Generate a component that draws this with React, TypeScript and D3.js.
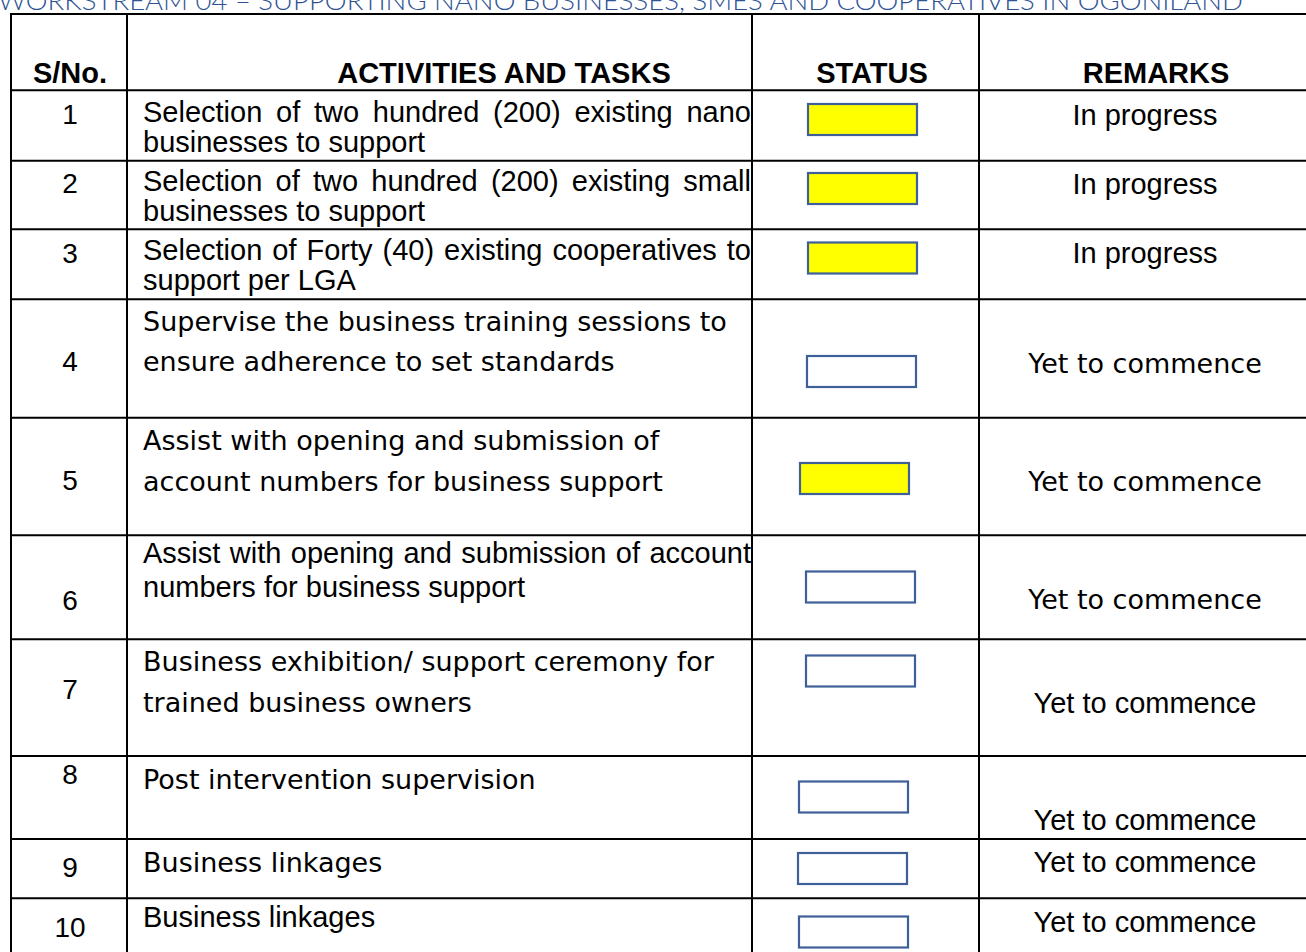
import React, { useEffect, useRef } from 'react';
import * as d3 from 'd3';

// ---- data ----
const title = 'WORKSTREAM 04 – SUPPORTING NANO BUSINESSES, SMES AND COOPERATIVES IN OGONILAND';
const headers = ['S/No.', 'ACTIVITIES AND TASKS', 'STATUS', 'REMARKS'];
const serials = ['1', '2', '3', '4', '5', '6', '7', '8', '9', '10'];
const activities: string[][] = [
  ['Selection of two hundred (200) existing nano', 'businesses to support'],
  ['Selection of two hundred (200) existing small', 'businesses to support'],
  ['Selection of Forty (40) existing cooperatives to', 'support per LGA'],
  ['Supervise the business training sessions to', 'ensure adherence to set standards'],
  ['Assist with opening and submission of', 'account numbers for business support'],
  ['Assist with opening and submission of account', 'numbers for business support'],
  ['Business exhibition/ support ceremony for', 'trained business owners'],
  ['Post intervention supervision'],
  ['Business linkages'],
  ['Business linkages'],
];
const statusFilled = [true, true, true, false, true, false, false, false, false, false];
const remarks = [
  'In progress', 'In progress', 'In progress',
  'Yet to commence', 'Yet to commence', 'Yet to commence', 'Yet to commence',
  'Yet to commence', 'Yet to commence', 'Yet to commence',
];

// ---- layout (as in the source document) ----
const colEdges = [11, 127, 752, 979, 1333];
const rowEdges = [14, 90.3, 160.7, 229.3, 299.3, 417.7, 535.3, 639.3, 756, 839, 898.3, 960];
const headerCenters = [70, 504, 872, 1156];
const headerBaseline = 82.7;
const actBaselines = [[122, 152], [191, 221], [260, 290], [331, 371], [450, 491], [563, 597], [671, 712], [789], [872], [927]];
const numBaselines = [124.3, 193.3, 263.3, 371, 490, 610, 699, 784, 877, 936.7];
const boxLeft = [807, 807, 807, 806, 799, 805, 805, 798, 797, 798];
const boxTop = [103, 172, 241.5, 355, 462, 570.5, 654.5, 780.5, 852, 915.5];
const remarkBaselines = [125, 194, 263.3, 372.7, 491, 609, 712.7, 830, 871.7, 931.7];
const actComic = [false, false, false, true, true, false, true, true, true, false];
const remarkComic = [false, false, false, true, true, true, false, false, false, false];
const justifiedRows = [0, 1, 2, 5];

const ARIAL = '"Liberation Sans", Arial, sans-serif';
const COMIC = '"Comic Sans MS", "DejaVu Sans", sans-serif';

const W = 1306;
const H = 952;

export default function App() {
  const svgRef = useRef<SVGSVGElement>(null);

  useEffect(() => {
    if (!svgRef.current) return;
    const svg = d3.select(svgRef.current);
    svg.selectAll('*').remove();

    const textX = colEdges[1] + 16;
    const textRight = colEdges[2] - 1;

    // title (clipped at top, as in the page)
    svg.append('text')
      .attr('x', -2).attr('y', 9.5)
      .attr('textLength', 1245).attr('lengthAdjust', 'spacingAndGlyphs')
      .attr('font-family', '"Lato", "Open Sans", sans-serif')
      .attr('font-weight', 300)
      .attr('font-size', 26)
      .attr('fill', '#2F5496')
      .text(title);

    const g = svg.append('g');

    // header
    headers.forEach((h, i) => {
      g.append('text')
        .attr('x', headerCenters[i]).attr('y', headerBaseline)
        .attr('text-anchor', 'middle')
        .attr('font-family', ARIAL).attr('font-weight', 'bold').attr('font-size', 29)
        .attr('fill', '#000')
        .text(h);
    });

    serials.forEach((s, r) => {
      // serial number
      g.append('text')
        .attr('x', (colEdges[0] + colEdges[1]) / 2 + 1).attr('y', numBaselines[r])
        .attr('text-anchor', 'middle')
        .attr('font-family', ARIAL).attr('font-size', 28).attr('fill', '#000')
        .text(s);

      // activity lines
      activities[r].forEach((line, li) => {
        const t = g.append('text')
          .attr('x', textX).attr('y', actBaselines[r][li])
          .attr('font-family', actComic[r] ? COMIC : ARIAL)
          .attr('font-size', actComic[r] ? 27 : 29)
          .attr('fill', '#000');
        if (li === 0 && justifiedRows.includes(r)) {
          // justified first line: spread the words over the cell width
          const words = line.split(' ');
          const spans = words.map(w => t.append('tspan').text(w));
          const widths = spans.map(sp => (sp.node() as SVGTSpanElement).getComputedTextLength());
          const gap = (textRight - textX - d3.sum(widths)) / (words.length - 1);
          let cx = textX;
          spans.forEach((sp, k) => {
            sp.attr('x', cx);
            cx += widths[k] + gap;
          });
        } else {
          t.text(line);
        }
      });

      // status box
      g.append('rect')
        .attr('x', boxLeft[r] + 1).attr('y', boxTop[r] + 1)
        .attr('width', 109).attr('height', 31)
        .attr('fill', statusFilled[r] ? '#FFFF00' : '#fff')
        .attr('stroke', '#3F5F98').attr('stroke-width', 2.2);

      // remark
      g.append('text')
        .attr('x', 1145).attr('y', remarkBaselines[r])
        .attr('text-anchor', 'middle')
        .attr('font-family', remarkComic[r] ? COMIC : ARIAL)
        .attr('font-size', remarkComic[r] ? 27 : 29)
        .attr('fill', '#000')
        .text(remarks[r]);
    });

    // grid lines
    rowEdges.forEach(y => {
      g.append('line')
        .attr('x1', colEdges[0] - 1).attr('x2', colEdges[colEdges.length - 1])
        .attr('y1', y).attr('y2', y)
        .attr('stroke', '#000').attr('stroke-width', 2);
    });
    colEdges.forEach(cx => {
      g.append('line')
        .attr('x1', cx).attr('x2', cx)
        .attr('y1', rowEdges[0] - 1).attr('y2', rowEdges[rowEdges.length - 1])
        .attr('stroke', '#000').attr('stroke-width', 2);
    });
  }, []);

  return (
    <svg
      ref={svgRef}
      width={W}
      height={H}
      style={{ position: 'absolute', left: 0, top: 0, background: '#fff', display: 'block' }}
    />
  );
}
